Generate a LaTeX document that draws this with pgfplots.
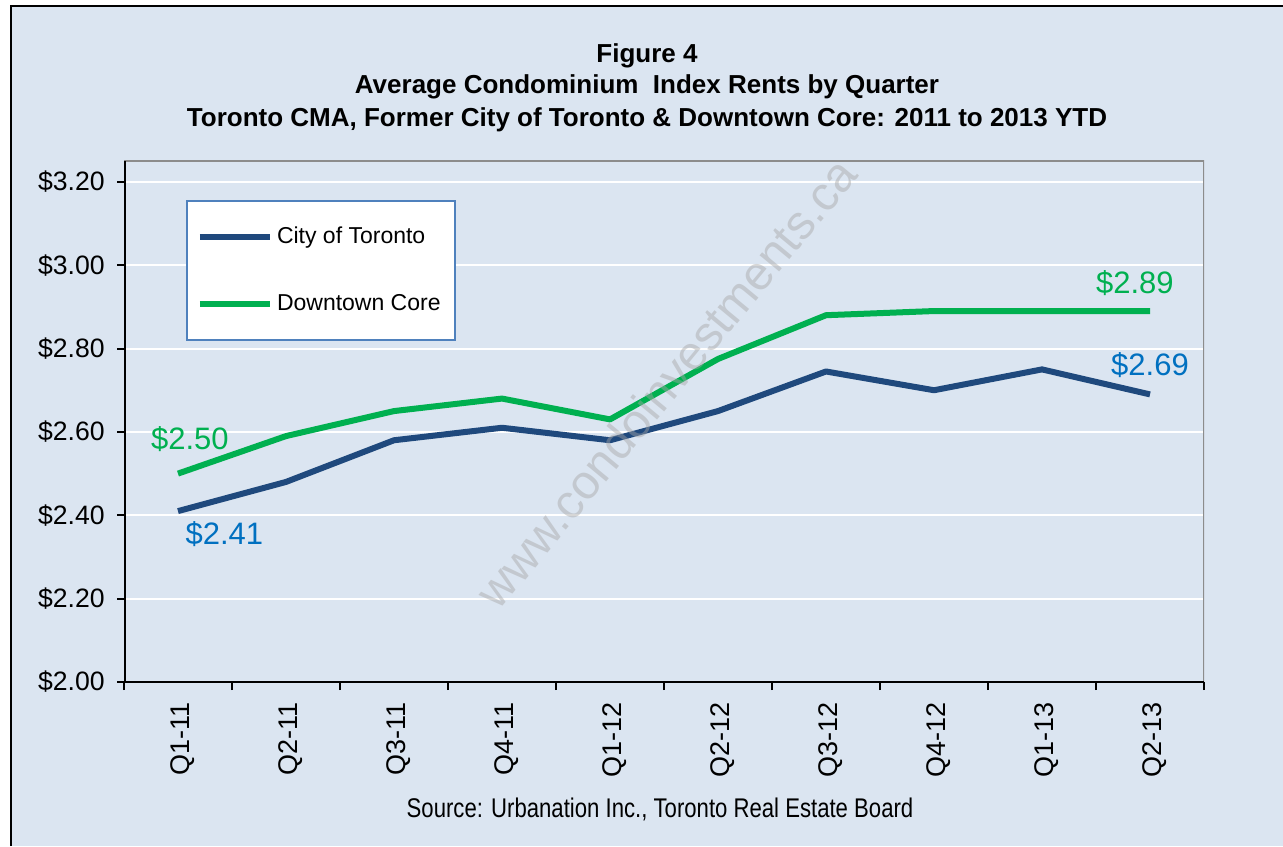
\documentclass[border=0pt]{standalone}
\usepackage{fontspec}
\setmainfont{Liberation Sans}
\newfontfamily\narrowfont[FakeStretch=0.82]{Liberation Sans}
\usepackage{pgfplots}
\pgfplotsset{compat=1.18}

\definecolor{cBg}{HTML}{DBE5F1}
\definecolor{cCity}{HTML}{1F497D}
\definecolor{cCore}{HTML}{00B050}
\definecolor{cCityLbl}{HTML}{0070C0}
\definecolor{cLegend}{HTML}{4F81BD}

\begin{document}
\begin{tikzpicture}
  % page: 1283 x 846 px at 0.5pt per px
  \useasboundingbox (0,0) rectangle (641.5pt,423pt);
  \fill[white] (0,0) rectangle (641.5pt,423pt);
  \fill[cBg] (5.5pt,0) rectangle (641.5pt,420pt);
  \draw[black, line width=1.2pt] (5.5pt,0) -- (5.5pt,420pt) -- (641.5pt,420pt);

  \node[anchor=base, font=\bfseries\fontsize{13}{15}\selectfont] at (323.5pt,391.5pt) {Figure 4};
  \node[anchor=base, font=\bfseries\fontsize{13}{15}\selectfont] at (323.5pt,376pt) {Average Condominium\ \ Index Rents by Quarter};
  \node[anchor=base, font=\bfseries\fontsize{13}{15}\selectfont] at (323.5pt,359.5pt) {Toronto CMA, Former City of Toronto \& Downtown Core: 2011 to 2013 YTD};

  \begin{axis}[
      at={(62pt,82pt)}, anchor=south west,
      scale only axis, width=540pt, height=260.5pt,
      xmin=0.5, xmax=10.5, ymin=2, ymax=3.25,
      xtick={1,2,3,4,5,6,7,8,9,10},
      xticklabels={Q1-11,Q2-11,Q3-11,Q4-11,Q1-12,Q2-12,Q3-12,Q4-12,Q1-13,Q2-13},
      minor xtick={0.5,1.5,2.5,3.5,4.5,5.5,6.5,7.5,8.5,9.5,10.5},
      ytick={2,2.2,2.4,2.6,2.8,3,3.2},
      yticklabels={\$2.00,\$2.20,\$2.40,\$2.60,\$2.80,\$3.00,\$3.20},
      tick align=outside,
      major x tick style={draw=none},
      minor x tick style={black, line width=1pt},
      minor tick length=4pt,
      major y tick style={black, line width=1pt},
      major tick length=3.5pt,
      ytick pos=left, xtick pos=bottom,
      xticklabel style={rotate=90, anchor=east, font=\fontsize{13.5}{15}\selectfont, inner sep=0pt, xshift=-6.5pt, yshift=-2.5pt},
      yticklabel style={font=\fontsize{13.3}{15}\selectfont, inner sep=0pt, xshift=-6pt},
      ymajorgrids, grid style={white, line width=1pt},
      axis line style={draw=none},
      legend style={at={(0.0574,0.925)}, anchor=north west,
                    draw=cLegend, line width=1pt, fill=white,
                    font=\fontsize{11.5}{13}\selectfont,
                    inner xsep=5pt, inner ysep=11pt, row sep=20pt,
                    cells={anchor=west}},
      legend image code/.code={\draw[#1, line width=3pt] (0pt,0pt) -- (35pt,0pt);},
    ]
    \addplot[cCity, line width=3pt, line join=round] coordinates {
      (1,2.41) (2,2.48) (3,2.58) (4,2.61) (5,2.58)
      (6,2.65) (7,2.745) (8,2.70) (9,2.75) (10,2.69)};
    \addplot[cCore, line width=3pt, line join=round] coordinates {
      (1,2.50) (2,2.59) (3,2.65) (4,2.68) (5,2.63)
      (6,2.775) (7,2.88) (8,2.89) (9,2.89) (10,2.89)};
    \legend{City of Toronto, Downtown Core}

    \node[text=cCore, font=\fontsize{15.5}{17}\selectfont] at (axis cs:1.11,2.583) {\$2.50};
    \node[text=cCityLbl, font=\fontsize{15.5}{17}\selectfont] at (axis cs:1.43,2.356) {\$2.41};
    \node[text=cCore, font=\fontsize{15.5}{17}\selectfont] at (axis cs:9.86,2.958) {\$2.89};
    \node[text=cCityLbl, font=\fontsize{15.5}{17}\selectfont] at (axis cs:10.0,2.76) {\$2.69};

    \draw[black!45, line width=1pt] (rel axis cs:0,1) -- (rel axis cs:1,1) -- (rel axis cs:1,0);
    \draw[black, line width=1.5pt] (rel axis cs:0,1) -- (rel axis cs:0,0) -- (rel axis cs:1,0);
  \end{axis}

  \node[rotate=50.4, text=black!35, opacity=0.45, font=\fontsize{24}{26}\selectfont] at (333pt,231.5pt) {www.condoinvestments.ca};
  \node[anchor=base, font=\narrowfont\fontsize{13.5}{15}\selectfont] at (330pt,14.5pt) {Source: Urbanation Inc., Toronto Real Estate Board};
\end{tikzpicture}
\end{document}
